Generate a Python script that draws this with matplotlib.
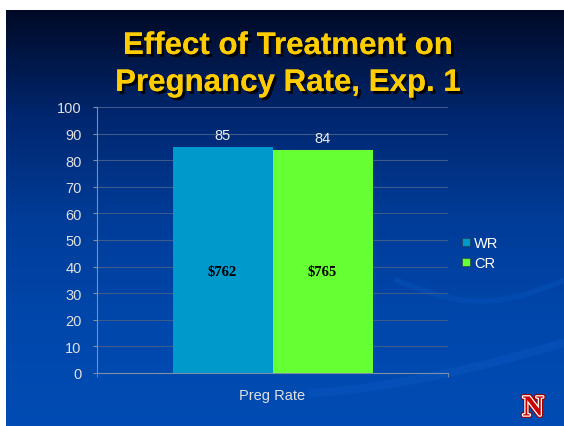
import numpy as np
import matplotlib.pyplot as plt
import matplotlib.patheffects as pe
from matplotlib.colors import LinearSegmentedColormap
from matplotlib.lines import Line2D

# dados do grafico
grupos = ['WR', 'CR']
taxa_prenhez = [85, 84]
custos = ['$762', '$765']
cores = ['#0099CC', '#66FF33']
categoria = 'Preg Rate'

fig = plt.figure(figsize=(5.64, 4.27), dpi=100, facecolor='white')

# fundo em degrade do slide
fundo = fig.add_axes([6 / 564, 0, 1 - 6 / 564, 1 - 11 / 427])
cmap = LinearSegmentedColormap.from_list('slide', ['#000a26', '#00266e', '#003c98', '#0047ab', '#004cb4'])
grad = np.linspace(0, 1, 256).reshape(-1, 1)
fundo.imshow(grad, aspect='auto', cmap=cmap, extent=[0, 1, 0, 1], origin='upper')
# curvas decorativas
t = np.linspace(0, 1, 200)
fundo.plot(0.55 + 0.45 * t, 0.08 + 0.12 * t ** 1.5, color='#0a55c0', lw=6, alpha=0.5)
fundo.plot(0.7 + 0.3 * t, 0.35 - 0.05 * np.sin(t * np.pi), color='#0a55c0', lw=4, alpha=0.4)
fundo.set_xlim(0, 1)
fundo.set_ylim(0, 1)
fundo.axis('off')

# titulo
sombra = [pe.withSimplePatchShadow(offset=(2, -2), shadow_rgbFace='black', alpha=0.9), pe.Normal()]
fig.text(288 / 564, 1 - 47 / 427, 'Effect of Treatment on', ha='center', va='center', color='#FFCC00',
         fontsize=22.5, fontweight='bold', family='Liberation Sans', path_effects=sombra)
fig.text(288 / 564, 1 - 84 / 427, 'Pregnancy Rate, Exp. 1', ha='center', va='center', color='#FFCC00',
         fontsize=22.5, fontweight='bold', family='Liberation Sans', path_effects=sombra)

ax = fig.add_axes([97 / 564, 1 - 374 / 427, 351 / 564, 266 / 427])
ax.patch.set_alpha(0)
largura = 100 / 351
posicoes = [-largura / 2, largura / 2]
barras = ax.bar(posicoes, taxa_prenhez, width=largura, color=cores, zorder=3)

for b, v, c in zip(barras, taxa_prenhez, custos):
    x = b.get_x() + b.get_width() / 2
    ax.text(x, v + 1.8, str(v), ha='center', va='bottom', color='#eeeeee', fontsize=10.5, family='Liberation Sans')
    ax.text(x, 38, c, ha='center', va='center', color='black', fontsize=10.5, fontweight='bold',
            family='Liberation Serif', zorder=4)

ax.set_xlim(-0.5, 0.5)
ax.set_ylim(0, 100)
ax.set_yticks(range(0, 101, 10))
ax.set_xticks([0])
ax.set_xticklabels([categoria])
ax.set_xticks([-0.5, 0.5], minor=True)
ax.grid(axis='y', color='#3c5a8c', lw=0.8, zorder=0)
for lado in ['top', 'right']:
    ax.spines[lado].set_visible(False)
ax.spines['left'].set_color('#7f8fa8')
ax.spines['bottom'].set_color('#7f8fa8')
ax.tick_params(axis='y', colors='#7f8fa8', labelcolor='#e0e0e0', labelsize=10.5, length=3, pad=8)
ax.tick_params(axis='x', colors='#7f8fa8', labelcolor='#e0e0e0', labelsize=10.5, length=0, pad=11)
ax.tick_params(axis='x', which='minor', colors='#7f8fa8', length=3)
for lbl in ax.get_xticklabels() + ax.get_yticklabels():
    lbl.set_family('Liberation Sans')

# legenda
itens = [Line2D([], [], marker='s', ls='', color=c, markersize=6, markeredgecolor='#333333', markeredgewidth=0.4)
         for c in cores]
leg = fig.legend(itens, grupos, loc='center left', bbox_to_anchor=(448 / 564, 1 - 254 / 427), frameon=False,
                 handlelength=0.6, handletextpad=0.3, labelspacing=0.45,
                 prop={'family': 'Liberation Sans', 'size': 10.5})
for tx in leg.get_texts():
    tx.set_color('white')

# logo N
fig.text(533 / 564, 1 - 409 / 427, 'N', ha='center', va='center', color='#cc0000', fontsize=21,
         fontweight='bold', family='Liberation Serif',
         path_effects=[pe.Stroke(linewidth=3.5, foreground='#990000'), pe.Stroke(linewidth=1.8, foreground='white'),
                       pe.Normal()])

fig.savefig('out.png', dpi=100, facecolor='white')
